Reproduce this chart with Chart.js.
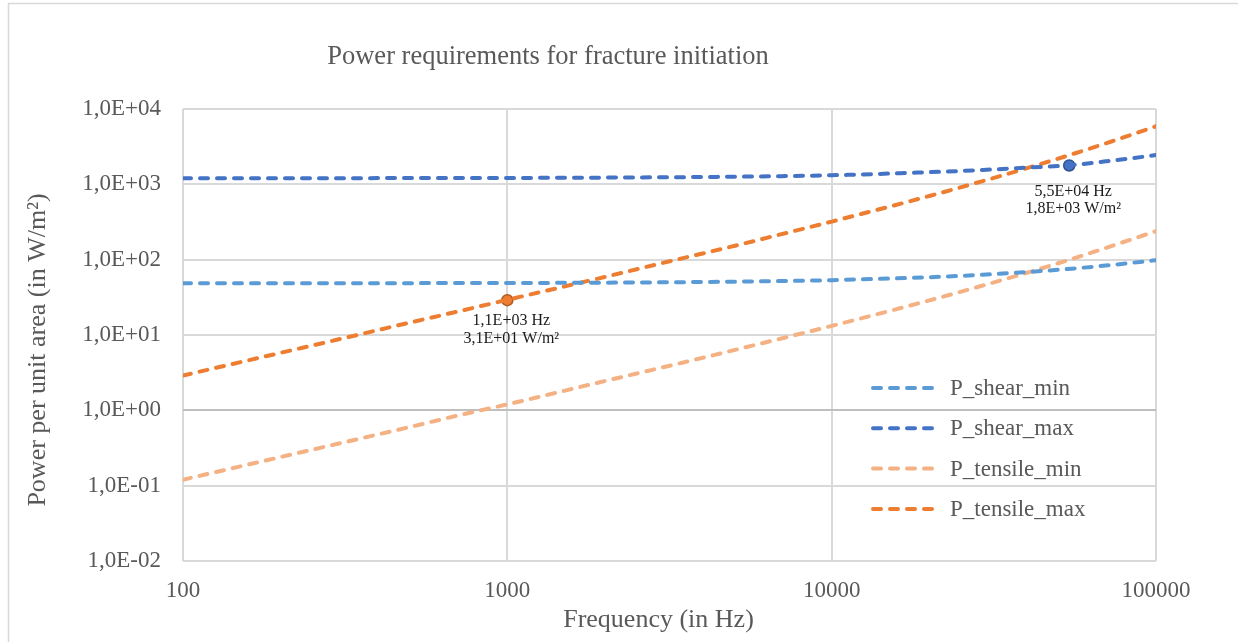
<!DOCTYPE html>
<html>
<head>
<meta charset="utf-8">
<title>Power requirements for fracture initiation</title>
<script src="https://cdn.jsdelivr.net/npm/chart.js@4.4.1/dist/chart.umd.min.js"></script>
<style>
    html, body { margin: 0; padding: 0; background: #fff; }
    #wrap { width: 1238px; height: 642px; position: relative; }
</style>
</head>
<body>
<div id="wrap"><canvas id="lineChart"></canvas></div>
<script>
// values (Hz, W/m²)
const frequencies = [100, 200, 300, 500, 700, 1000, 2000, 3000, 5000, 7000, 10000, 20000, 30000, 40000, 55000, 70000, 85000, 100000];
const shearMin    = [48.5, 48.6, 48.7, 48.8, 48.9, 49, 49.5, 50, 51, 52, 53.5, 58.5, 63.5, 68.5, 76, 83.5, 91, 98.5];
const shearMax    = [1205, 1206, 1208, 1210, 1212, 1215, 1228, 1240, 1262, 1285, 1320, 1450, 1560, 1670, 1800, 2020, 2230, 2450];
const tensileMin  = [0.12, 0.24, 0.36, 0.6, 0.85, 1.2, 2.45, 3.7, 6.3, 9.0, 13.2, 28.8, 46.8, 67, 102, 143, 189, 240];
const tensileMax  = [2.9, 5.8, 8.7, 14.6, 20.4, 29.3, 59, 90, 152, 218, 320, 700, 1140, 1640, 2500, 3500, 4630, 5900];

const seriesNames  = ['P_shear_min', 'P_shear_max', 'P_tensile_min', 'P_tensile_max'];
const seriesColors = ['#5B9BD5', '#4472C4', '#F4B183', '#ED7D31'];

// highlighted points and their labels
const markerPoints = [{x: 1000, y: 29}, {x: 54000, y: 1780}];
const markerLabels = [['1,1E+03 Hz', '3,1E+01 W/m²'], ['5,5E+04 Hz', '1,8E+03 W/m²']];
const markerFill   = ['#ED7D31', '#4472C4'];
const markerEdge   = ['#AE5A21', '#2F528F'];

const xTicks = [100, 1000, 10000, 100000];
const xTickLabels = ['100', '1000', '10000', '100000'];
const yTicks = [0.01, 0.1, 1, 10, 100, 1000, 10000];
const yTickLabels = ['1,0E-02', '1,0E-01', '1,0E+00', '1,0E+01', '1,0E+02', '1,0E+03', '1,0E+04'];

const chartTitle = 'Power requirements for fracture initiation';
const xTitle = 'Frequency (in Hz)';
const yTitle = 'Power per unit area (in W/m²)';

const FONT = "'Liberation Serif', 'Times New Roman', serif";
const GREY = '#595959';

function toPoints(values) {
    return frequencies.map((f, i) => ({x: f, y: values[i]}));
}

const seriesValues = [shearMin, shearMax, tensileMin, tensileMax];
const datasets = seriesValues.map((vals, i) => ({
    label: seriesNames[i],
    data: toPoints(vals),
    borderColor: seriesColors[i],
    backgroundColor: seriesColors[i],
    borderWidth: 4,
    borderDash: [8, 9],
    borderCapStyle: 'round',
    pointRadius: 0,
    cubicInterpolationMode: 'monotone',
    fill: false
}));

markerPoints.forEach((p, i) => {
    datasets.push({
        label: 'marker' + i,
        data: [p],
        showLine: false,
        pointRadius: 5.5,
        pointBorderWidth: 1.5,
        pointBackgroundColor: markerFill[i],
        pointBorderColor: markerEdge[i]
    });
});

// background + outer frame
const frame = {
    id: 'frame',
    beforeDraw(chart) {
        const c = chart.ctx;
        c.save();
        c.fillStyle = '#fff';
        c.fillRect(0, 0, chart.width, chart.height);
        c.strokeStyle = '#d9d9d9';
        c.lineWidth = 1.5;
        c.strokeRect(8.5, 3.5, chart.width + 20, chart.height + 20);
        c.restore();
    }
};

// chart title and axis titles (Excel puts them a bit off the axis centre)
const titles = {
    id: 'titles',
    afterDraw(chart) {
        const c = chart.ctx;
        const area = chart.chartArea;
        c.save();
        c.fillStyle = GREY;
        c.textAlign = 'center';
        c.textBaseline = 'middle';
        c.font = '26.5px ' + FONT;
        c.fillText(chartTitle, 548, 57);
        c.font = '26px ' + FONT;
        c.fillText(xTitle, (area.left + area.right) / 2 - 11, 620);
        c.translate(38, (area.top + area.bottom) / 2 + 15);
        c.rotate(-Math.PI / 2);
        c.fillText(yTitle, 0, 0);
        c.restore();
    }
};

// labels under the highlighted points
const labelOffsets = [21, 26];
const pointLabels = {
    id: 'pointLabels',
    afterDatasetsDraw(chart) {
        const c = chart.ctx;
        c.save();
        c.font = '16px ' + FONT;
        c.fillStyle = '#1a1a1a';
        c.textAlign = 'center';
        c.textBaseline = 'middle';
        markerPoints.forEach((p, i) => {
            const px = chart.scales.x.getPixelForValue(p.x);
            const py = chart.scales.y.getPixelForValue(p.y);
            markerLabels[i].forEach((t, j) => {
                c.fillText(t, px + 4, py + labelOffsets[i] + j * 17.5);
            });
        });
        c.restore();
    }
};

// legend drawn inside the plot area, lower right
const innerLegend = {
    id: 'innerLegend',
    afterDraw(chart) {
        const c = chart.ctx;
        const area = chart.chartArea;
        const x0 = area.right - 283;
        const y0 = area.bottom - 173;
        c.save();
        c.font = '23px ' + FONT;
        c.textBaseline = 'middle';
        seriesNames.forEach((name, i) => {
            const y = y0 + i * 40.3;
            c.strokeStyle = seriesColors[i];
            c.lineWidth = 4;
            c.lineCap = 'round';
            c.setLineDash([8, 9]);
            c.beginPath();
            c.moveTo(x0, y);
            c.lineTo(x0 + 68, y);
            c.stroke();
            c.setLineDash([]);
            c.fillStyle = GREY;
            c.fillText(name, x0 + 77, y + 1);
        });
        c.restore();
    }
};

const ctx = document.getElementById('lineChart').getContext('2d');
const chart = new Chart(ctx, {
    type: 'line',
    data: { datasets: datasets },
    options: {
        responsive: true,
        maintainAspectRatio: false,
        animation: false,
        layout: { padding: { left: 22, right: 82, top: 109, bottom: 6 } },
        plugins: {
            legend: { display: false },
            tooltip: { enabled: false }
        },
        scales: {
            x: {
                type: 'logarithmic',
                min: 100,
                max: 100000,
                afterBuildTicks: scale => { scale.ticks = xTicks.map(v => ({value: v})); },
                afterFit: scale => { scale.height = 75; },
                ticks: {
                    color: GREY,
                    font: { family: FONT, size: 23 },
                    padding: 16,
                    maxRotation: 0,
                    callback: (v, i) => xTickLabels[i]
                },
                grid: { color: '#d9d9d9', lineWidth: 2, drawTicks: false },
                border: { display: false }
            },
            y: {
                type: 'logarithmic',
                min: 0.01,
                max: 10000,
                afterBuildTicks: scale => { scale.ticks = yTicks.map(v => ({value: v})); },
                afterFit: scale => { scale.width = 161; },
                ticks: {
                    color: GREY,
                    font: { family: FONT, size: 23 },
                    padding: 22,
                    callback: (v, i) => yTickLabels[i]
                },
                grid: {
                    color: c => (c.tick && c.tick.value === 1 ? '#bfbfbf' : '#d9d9d9'),
                    lineWidth: 2,
                    drawTicks: false
                },
                border: { display: false }
            }
        }
    },
    plugins: [frame, titles, pointLabels, innerLegend]
});
</script>
</body>
</html>
